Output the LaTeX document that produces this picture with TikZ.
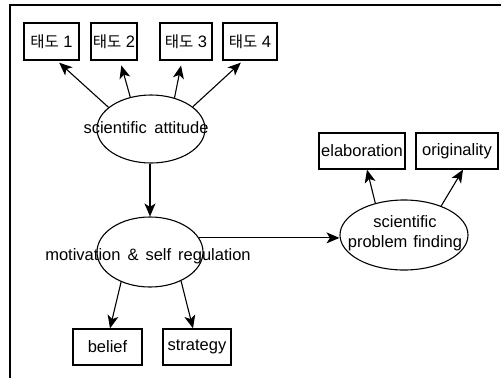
\documentclass[tikz,border=0pt]{standalone}
\usepackage{fontspec}
\setmainfont{Liberation Sans}
\newfontfamily\kr{Noto Sans CJK KR}
\usetikzlibrary{shapes.geometric,arrows.meta,calc}
\begin{document}
\begin{tikzpicture}[x=1pt,y=-1pt,
  every node/.style={font=\fontsize{16.5}{19}\selectfont},
  box/.style={draw,line width=1.3pt,inner sep=0pt,minimum height=36pt},
  ell/.style={draw,ellipse,line width=1.1pt,inner sep=0pt},
  arr/.style={-{Stealth[length=13pt,width=11pt,inset=3.5pt]},line width=1.1pt},
  lbl/.style={inner sep=0pt,align=center}]
\useasboundingbox (0,0) rectangle (501,378);
\draw[line width=1.1pt] (10,378) -- (10,5) -- (501,5);
% boxes
\node[box,minimum width=55pt,minimum height=37pt] (t1) at (51.5,41.5) {{\kr\fontsize{15.5}{17}\selectfont 태도} 1};
\node[box,minimum width=46pt,minimum height=37pt] (t2) at (114,41.5) {{\kr\fontsize{15.5}{17}\selectfont 태도} 2};
\node[box,minimum width=52pt,minimum height=37pt] (t3) at (186,41.5) {{\kr\fontsize{15.5}{17}\selectfont 태도} 3};
\node[box,minimum width=54pt,minimum height=37pt] (t4) at (250,41.5) {{\kr\fontsize{15.5}{17}\selectfont 태도} 4};
\node[box,minimum width=69pt] (bel) at (107.5,347) {belief};
\node[box,minimum width=68pt] (str) at (197,347) {strategy};
\node[box,minimum width=86pt] (ela) at (362,151) {elaboration};
\node[box,minimum width=82pt] (ori) at (457,151) {originality};
% ellipses
\node[ell,minimum width=108pt,minimum height=68pt] (att) at (151,129) {};
\node[lbl] (attl) at (146,128) {scientific\hspace{3pt} attitude};
\node[ell,minimum width=106pt,minimum height=70pt] (mot) at (150,252) {};
\node[lbl] (motl) at (148,256) {motivation\hspace{7pt}\&\hspace{7pt}self\hspace{7pt}regulation};
\node[ell,minimum width=128pt,minimum height=70pt] (fin) at (404,235) {};
\node[lbl] (finl) at (405,233) {scientific\\[1pt]problem\hspace{6pt}finding};
% connectors
\draw[arr,shorten >=3pt] (att.153) -- ([xshift=5.5pt]t1.south);
\draw[arr,shorten >=5pt] (att.123) -- ([xshift=6pt]t2.south);
\draw[arr,shorten >=5pt] (att.53) -- ([xshift=-4pt]t3.south);
\draw[arr,shorten >=3pt] (att.28) -- ([xshift=-7pt]t4.south);
\draw[arr] (att.south -| mot.north) -- (mot.north);
\draw[arr] (mot.226) -- ([xshift=2.5pt]bel.north);
\draw[arr] (mot.-43) -- ([xshift=-4pt]str.north);
\draw[arr] (mot.16) -- (mot.16 -| fin.west);
\draw[arr] (fin.132) -- ([xshift=5pt]ela.south);
\draw[arr] (fin.38) -- ([xshift=6pt]ori.south);
\end{tikzpicture}
\end{document}
